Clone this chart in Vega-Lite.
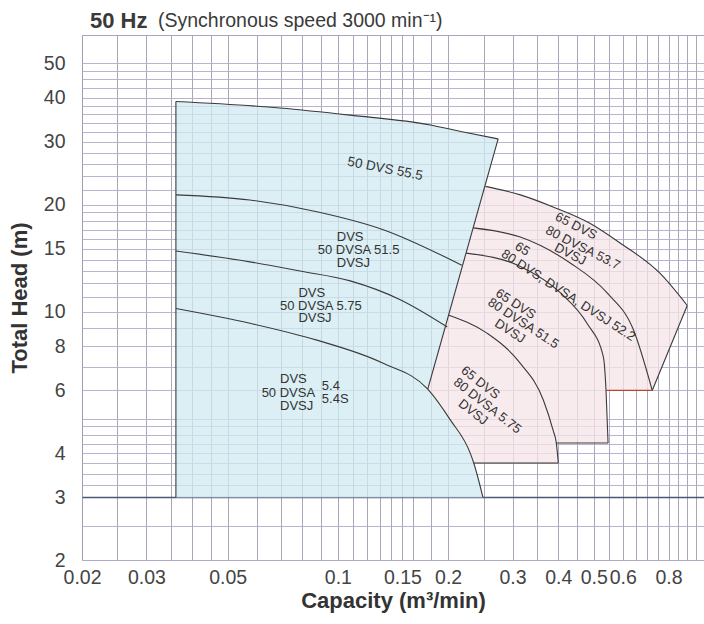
{
  "$schema": "https://vega.github.io/schema/vega-lite/v6.json",
  "width": 622,
  "height": 525,
  "autosize": {"type": "none"},
  "padding": {"left": 82, "top": 35, "right": 0, "bottom": 64},
  "background": "white",
  "config": {"view": {"stroke": "#a9a3bf", "strokeWidth": 1}},
  "datasets": {
    "blue": [
      {"i": 1, "q": 0.0361, "h": 3.0},
      {"i": 2, "q": 0.0361, "h": 39.0},
      {"i": 3, "q": 0.0695, "h": 37.4},
      {"i": 4, "q": 0.108, "h": 35.7},
      {"i": 5, "q": 0.179, "h": 33.5},
      {"i": 6, "q": 0.220, "h": 32.0},
      {"i": 7, "q": 0.274, "h": 30.6},
      {"i": 8, "q": 0.176, "h": 6.05},
      {"i": 9, "q": 0.203, "h": 4.95},
      {"i": 10, "q": 0.230, "h": 3.99},
      {"i": 11, "q": 0.235, "h": 3.75},
      {"i": 12, "q": 0.249, "h": 3.0}
    ],
    "pink": [
      {"i": 1, "q": 0.176, "h": 6.05},
      {"i": 2, "q": 0.253, "h": 22.5},
      {"i": 3, "q": 0.315, "h": 21.3},
      {"i": 4, "q": 0.387, "h": 19.7},
      {"i": 5, "q": 0.489, "h": 17.7},
      {"i": 6, "q": 0.590, "h": 15.6},
      {"i": 7, "q": 0.759, "h": 12.8},
      {"i": 8, "q": 0.900, "h": 10.4},
      {"i": 9, "q": 0.722, "h": 6.0},
      {"i": 10, "q": 0.540, "h": 6.0},
      {"i": 11, "q": 0.547, "h": 4.27},
      {"i": 12, "q": 0.395, "h": 4.27},
      {"i": 13, "q": 0.400, "h": 3.75},
      {"i": 14, "q": 0.235, "h": 3.75},
      {"i": 15, "q": 0.230, "h": 3.99},
      {"i": 16, "q": 0.203, "h": 4.95}
    ],
    "curves": [
      {"c": "top", "i": 1, "q": 0.0361, "h": 39.0},
      {"c": "top", "i": 2, "q": 0.0695, "h": 37.4},
      {"c": "top", "i": 3, "q": 0.108, "h": 35.7},
      {"c": "top", "i": 4, "q": 0.179, "h": 33.5},
      {"c": "top", "i": 5, "q": 0.220, "h": 32.0},
      {"c": "top", "i": 6, "q": 0.274, "h": 30.6},
      {"c": "c515", "i": 1, "q": 0.0361, "h": 21.3},
      {"c": "c515", "i": 2, "q": 0.0575, "h": 20.6},
      {"c": "c515", "i": 3, "q": 0.0876, "h": 19.1},
      {"c": "c515", "i": 4, "q": 0.133, "h": 17.0},
      {"c": "c515", "i": 5, "q": 0.218, "h": 13.5},
      {"c": "c575", "i": 1, "q": 0.0361, "h": 14.8},
      {"c": "c575", "i": 2, "q": 0.0575, "h": 13.8},
      {"c": "c575", "i": 3, "q": 0.0788, "h": 13.0},
      {"c": "c575", "i": 4, "q": 0.108, "h": 12.2},
      {"c": "c575", "i": 5, "q": 0.148, "h": 10.8},
      {"c": "c575", "i": 6, "q": 0.199, "h": 9.05},
      {"c": "c54", "i": 1, "q": 0.0361, "h": 10.2},
      {"c": "c54", "i": 2, "q": 0.0575, "h": 9.27},
      {"c": "c54", "i": 3, "q": 0.0876, "h": 8.31},
      {"c": "c54", "i": 4, "q": 0.133, "h": 7.15},
      {"c": "c54", "i": 5, "q": 0.176, "h": 6.05},
      {"c": "c54", "i": 6, "q": 0.203, "h": 4.95},
      {"c": "c54", "i": 7, "q": 0.230, "h": 3.99},
      {"c": "c54", "i": 8, "q": 0.235, "h": 3.75},
      {"c": "c54", "i": 9, "q": 0.249, "h": 3.0},
      {"c": "P1", "i": 1, "q": 0.253, "h": 22.5},
      {"c": "P1", "i": 2, "q": 0.315, "h": 21.3},
      {"c": "P1", "i": 3, "q": 0.387, "h": 19.7},
      {"c": "P1", "i": 4, "q": 0.489, "h": 17.7},
      {"c": "P1", "i": 5, "q": 0.590, "h": 15.6},
      {"c": "P1", "i": 6, "q": 0.759, "h": 12.8},
      {"c": "P1", "i": 7, "q": 0.900, "h": 10.4},
      {"c": "P2", "i": 1, "q": 0.234, "h": 17.2},
      {"c": "P2", "i": 2, "q": 0.315, "h": 16.2},
      {"c": "P2", "i": 3, "q": 0.431, "h": 13.7},
      {"c": "P2", "i": 4, "q": 0.543, "h": 11.3},
      {"c": "P2", "i": 5, "q": 0.642, "h": 8.87},
      {"c": "P2", "i": 6, "q": 0.722, "h": 6.0},
      {"c": "P3", "i": 1, "q": 0.224, "h": 14.6},
      {"c": "P3", "i": 2, "q": 0.315, "h": 13.4},
      {"c": "P3", "i": 3, "q": 0.405, "h": 11.3},
      {"c": "P3", "i": 4, "q": 0.479, "h": 9.27},
      {"c": "P3", "i": 5, "q": 0.531, "h": 7.46},
      {"c": "P3", "i": 6, "q": 0.540, "h": 6.0},
      {"c": "P3", "i": 7, "q": 0.547, "h": 4.27},
      {"c": "P4", "i": 1, "q": 0.200, "h": 9.78},
      {"c": "P4", "i": 2, "q": 0.256, "h": 8.68},
      {"c": "P4", "i": 3, "q": 0.315, "h": 7.15},
      {"c": "P4", "i": 4, "q": 0.364, "h": 5.64},
      {"c": "P4", "i": 5, "q": 0.387, "h": 4.64},
      {"c": "P4", "i": 6, "q": 0.395, "h": 4.27},
      {"c": "P4", "i": 7, "q": 0.400, "h": 3.75}
    ],
    "edges": [
      {"c": "left", "i": 1, "q": 0.0361, "h": 3.0},
      {"c": "left", "i": 2, "q": 0.0361, "h": 39.0},
      {"c": "slant", "i": 1, "q": 0.274, "h": 30.6},
      {"c": "slant", "i": 2, "q": 0.176, "h": 6.05},
      {"c": "redge", "i": 1, "q": 0.900, "h": 10.4},
      {"c": "redge", "i": 2, "q": 0.722, "h": 6.0},
      {"c": "h427", "i": 1, "q": 0.395, "h": 4.27},
      {"c": "h427", "i": 2, "q": 0.547, "h": 4.27},
      {"c": "h375", "i": 1, "q": 0.235, "h": 3.75},
      {"c": "h375", "i": 2, "q": 0.400, "h": 3.75}
    ],
    "red": [
      {"i": 1, "q": 0.540, "h": 6.0},
      {"i": 2, "q": 0.722, "h": 6.0}
    ],
    "labels": [
      {"g": "b", "t": "DVS", "q": 0.0993, "h": 16.2},
      {"g": "b", "t": "50 DVSA 51.5", "q": 0.0881, "h": 14.9},
      {"g": "b", "t": "DVSJ", "q": 0.0993, "h": 13.7},
      {"g": "b", "t": "DVS", "q": 0.0780, "h": 11.3},
      {"g": "b", "t": "50 DVSA 5.75", "q": 0.0695, "h": 10.4},
      {"g": "b", "t": "DVSJ", "q": 0.0780, "h": 9.57},
      {"g": "b", "t": "DVS", "q": 0.0695, "h": 6.45},
      {"g": "b", "t": "50 DVSA", "q": 0.0619, "h": 5.91},
      {"g": "b", "t": "DVSJ", "q": 0.0695, "h": 5.42},
      {"g": "b", "t": "5.4", "q": 0.0904, "h": 6.17},
      {"g": "b", "t": "5.4S", "q": 0.0904, "h": 5.68},
      {"g": "a11", "t": "50 DVS 55.5", "q": 0.1346, "h": 25.2},
      {"g": "a27", "t": "65 DVS", "q": 0.447, "h": 17.4},
      {"g": "a27", "t": "80 DVSA 53.7", "q": 0.467, "h": 15.1},
      {"g": "a27", "t": "DVSJ", "q": 0.431, "h": 14.5},
      {"g": "a33", "t": "65", "q": 0.319, "h": 15.0},
      {"g": "a33", "t": "80 DVS, DVSA, DVSJ 52.2", "q": 0.426, "h": 11.1},
      {"g": "a33", "t": "65 DVS", "q": 0.306, "h": 10.5},
      {"g": "a33", "t": "80 DVSA 51.5", "q": 0.321, "h": 9.27},
      {"g": "a33", "t": "DVSJ", "q": 0.295, "h": 8.81},
      {"g": "a38", "t": "65 DVS", "q": 0.245, "h": 6.31},
      {"g": "a38", "t": "80 DVSA 5.75", "q": 0.256, "h": 5.43},
      {"g": "a38", "t": "DVSJ", "q": 0.234, "h": 5.21}
    ],
    "titles": [
      {"g": "main", "t": "50 Hz", "q": 0.02103, "h": 65.6},
      {"g": "sub", "t": "(Synchronous speed  3000 min⁻¹)", "q": 0.03226, "h": 65.6}
    ]
  },
  "encoding": {
    "x": {
      "field": "q",
      "type": "quantitative",
      "scale": {"type": "log", "domain": [0.02, 1], "nice": false},
      "axis": {
        "title": "Capacity (m³/min)",
        "values": [0.02, 0.025, 0.03, 0.035, 0.04, 0.045, 0.05, 0.06, 0.07, 0.08, 0.09, 0.1, 0.11, 0.12, 0.13, 0.14, 0.15, 0.16, 0.18, 0.2, 0.25, 0.3, 0.35, 0.4, 0.45, 0.5, 0.55, 0.6, 0.65, 0.7, 0.75, 0.8, 0.85, 0.9, 0.95, 1],
        "format": "~g",
        "labelExpr": "indexof([0.02, 0.03, 0.05, 0.1, 0.15, 0.2, 0.3, 0.4, 0.5, 0.6, 0.8], datum.value) >= 0 ? datum.label : ''",
        "ticks": false,
        "domain": false,
        "grid": true,
        "gridColor": "#a09db2",
        "gridWidth": 0.9,
        "labelFont": "Liberation Sans",
        "labelFontSize": 19.5,
        "labelColor": "#444444",
        "labelPadding": 8,
        "labelOverlap": false,
        "labelFlush": false,
        "titleFont": "Liberation Sans",
        "titleFontSize": 22,
        "titleFontWeight": "bold",
        "titleColor": "#333333",
        "titlePadding": 4
      }
    },
    "y": {
      "field": "h",
      "type": "quantitative",
      "scale": {"type": "log", "domain": [2, 60], "nice": false},
      "axis": {
        "title": "Total Head (m)",
        "values": [2, 2.5, 3, 3.25, 3.5, 3.75, 4, 4.25, 4.5, 4.75, 5, 6, 7, 8, 9, 10, 11, 12, 13, 14, 15, 16, 17, 18, 19, 20, 22, 24, 26, 28, 30, 32, 34, 36, 38, 40, 42.5, 45, 47.5, 50],
        "format": "~g",
        "labelExpr": "indexof([2, 3, 4, 6, 8, 10, 15, 20, 30, 40, 50], datum.value) >= 0 ? datum.label : ''",
        "ticks": false,
        "domain": false,
        "grid": true,
        "gridColor": {"condition": {"test": "datum.value === 3", "value": "#4d5878"}, "value": "#b2a9c9"},
        "gridWidth": {"condition": {"test": "datum.value === 3", "value": 1.3}, "value": 0.9},
        "labelFont": "Liberation Sans",
        "labelFontSize": 19.5,
        "labelColor": "#444444",
        "labelPadding": 17,
        "labelOverlap": false,
        "labelFlush": false,
        "titleFont": "Liberation Sans",
        "titleFontSize": 22,
        "titleFontWeight": "bold",
        "titleColor": "#333333",
        "titlePadding": 12
      }
    }
  },
  "layer": [
    {
      "data": {"name": "blue"},
      "mark": {"type": "line", "interpolate": "linear-closed", "fill": "#cfeaf0", "fillOpacity": 0.75, "strokeOpacity": 0},
      "encoding": {"order": {"field": "i", "type": "quantitative"}}
    },
    {
      "data": {"name": "pink"},
      "mark": {"type": "line", "interpolate": "linear-closed", "fill": "#f6e4e7", "fillOpacity": 0.75, "strokeOpacity": 0},
      "encoding": {"order": {"field": "i", "type": "quantitative"}}
    },
    {
      "data": {"name": "curves"},
      "mark": {"type": "line", "interpolate": "monotone", "color": "#3a3a3a", "strokeWidth": 1.1},
      "encoding": {
        "detail": {"field": "c", "type": "nominal"},
        "order": {"field": "i", "type": "quantitative"}
      }
    },
    {
      "data": {"name": "edges"},
      "mark": {"type": "line", "color": "#3a3a3a", "strokeWidth": 1.1},
      "encoding": {
        "detail": {"field": "c", "type": "nominal"},
        "order": {"field": "i", "type": "quantitative"}
      }
    },
    {
      "data": {"name": "red"},
      "mark": {"type": "line", "color": "#b5482e", "strokeWidth": 1.2},
      "encoding": {"order": {"field": "i", "type": "quantitative"}}
    },
    {
      "data": {"name": "labels"},
      "transform": [{"filter": "datum.g == 'b'"}],
      "mark": {"type": "text", "align": "left", "baseline": "middle", "font": "Liberation Sans", "fontSize": 13, "color": "#333333"},
      "encoding": {"text": {"field": "t", "type": "nominal"}}
    },
    {
      "data": {"name": "labels"},
      "transform": [{"filter": "datum.g == 'a11'"}],
      "mark": {"type": "text", "align": "center", "baseline": "middle", "angle": 11, "font": "Liberation Sans", "fontSize": 13.5, "color": "#333333"},
      "encoding": {"text": {"field": "t", "type": "nominal"}}
    },
    {
      "data": {"name": "labels"},
      "transform": [{"filter": "datum.g == 'a27'"}],
      "mark": {"type": "text", "align": "center", "baseline": "middle", "angle": 27, "font": "Liberation Sans", "fontSize": 13, "color": "#333333"},
      "encoding": {"text": {"field": "t", "type": "nominal"}}
    },
    {
      "data": {"name": "labels"},
      "transform": [{"filter": "datum.g == 'a33'"}],
      "mark": {"type": "text", "align": "center", "baseline": "middle", "angle": 33, "font": "Liberation Sans", "fontSize": 13, "color": "#333333"},
      "encoding": {"text": {"field": "t", "type": "nominal"}}
    },
    {
      "data": {"name": "labels"},
      "transform": [{"filter": "datum.g == 'a38'"}],
      "mark": {"type": "text", "align": "center", "baseline": "middle", "angle": 38, "font": "Liberation Sans", "fontSize": 13, "color": "#333333"},
      "encoding": {"text": {"field": "t", "type": "nominal"}}
    },
    {
      "data": {"name": "titles"},
      "transform": [{"filter": "datum.g == 'main'"}],
      "mark": {"type": "text", "align": "left", "baseline": "middle", "font": "Liberation Sans", "fontSize": 22, "fontWeight": "bold", "color": "#3a3a3a"},
      "encoding": {"text": {"field": "t", "type": "nominal"}}
    },
    {
      "data": {"name": "titles"},
      "transform": [{"filter": "datum.g == 'sub'"}],
      "mark": {"type": "text", "align": "left", "baseline": "middle", "font": "Liberation Sans", "fontSize": 19.5, "color": "#3a3a3a"},
      "encoding": {"text": {"field": "t", "type": "nominal"}}
    }
  ]
}
